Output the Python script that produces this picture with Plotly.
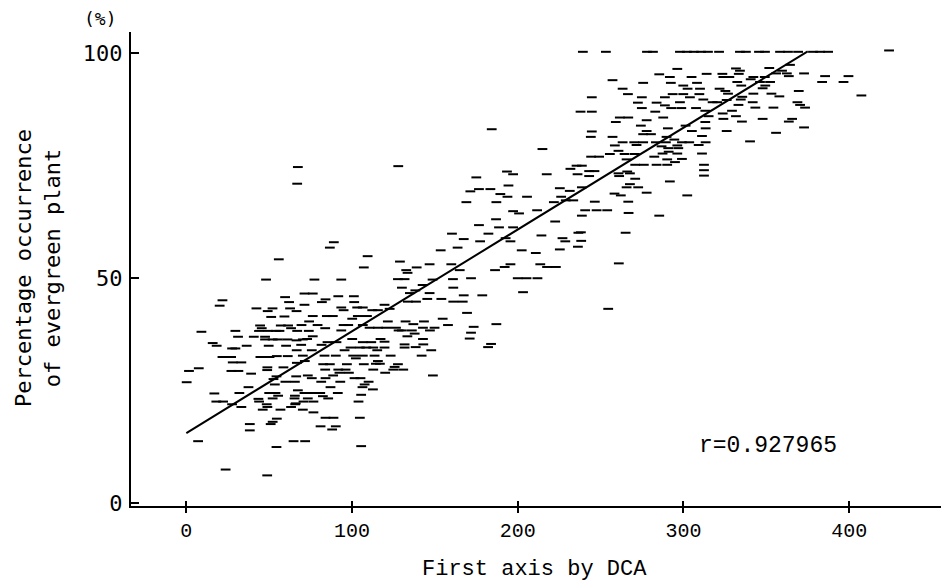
import plotly.graph_objects as go

# ---- data (x = DCA axis 1 score, y = % evergreen) ----
left_pts = [(55.8,54.2),(48.1,49.7),(59.6,45.8),(62.0,44.7),(21.8,45.1),(20.1,43.9),(42.3,43.3),(49.1,42.7),
    (52.0,43.3),(62.6,43.3),(66.5,42.7),(51.2,41.4),(59.2,41.5),(44.5,39.5),(45.5,38.9),(57.0,39.5),(61.4,39.5),
    (63.2,38.9),(9.1,38.1),(29.6,38.3),(31.2,37.0),(40.7,37.0),(43.9,38.3),(47.5,37.0),(49.5,38.3),(54.0,38.3),
    (56.2,38.3),(66.9,38.3),(47.5,36.4),(52.1,36.4),(55.2,36.4),(61.0,36.4),(66.5,36.2),(15.9,35.6),(18.3,35.0),
    (36.4,35.0),(49.7,35.0),(60.2,35.0),(27.6,34.4),(29.6,34.4),(21.8,32.5),(27.0,32.5),(44.7,32.5),(50.2,32.5),
    (54.6,32.7),(61.2,32.7),(28.0,31.3),(33.2,31.3),(48.9,30.2),(48.8,29.6),(58.6,30.2),(7.5,30.0),(1.6,29.4),
    (27.2,29.4),(31.4,29.4),(39.1,28.8),(66.7,31.2),(54.4,28.2),(52.6,27.6),(66.3,28.2),(0.2,26.9),(53.4,26.4),
    (59.8,27.0),(65.5,27.0),(37.5,25.8),(16.9,24.4),(32.0,24.5),(50.0,24.5),(53.8,24.5),(55.4,23.9),(65.5,23.9),
    (18.1,22.6),(22.2,22.6),(43.5,23.2),(43.9,22.6),(52.1,23.3),(27.6,22.0),(33.2,21.4),(48.5,22.0),(48.9,21.4),
    (46.1,20.8),(56.8,20.8),(63.2,21.4),(65.7,22.0),(54.6,18.8),(52.1,18.1),(50.9,17.6),(38.3,17.6),(38.3,16.2),
    (7.1,13.8),(64.7,13.8),(54.4,12.5),(23.7,7.5),(48.8,6.2),(67.3,74.7),(66.9,71.0)]

midleft_pts = [(160.3,59.9),(89.0,58.0),(86.6,56.8),(153.5,56.2),(109.4,54.9),(107.1,52.4),(128.9,53.7),
    (132.7,51.8),(133.5,51.2),(139.0,52.4),(146.8,53.1),(159.9,53.1),(77.3,49.7),(93.5,49.7),(127.7,49.8),
    (131.7,49.8),(130.1,47.9),(142.6,48.5),(148.6,49.7),(160.9,49.8),(161.1,47.9),(134.9,46.7),(138.2,47.3),
    (146.8,46.7),(71.3,46.6),(76.3,46.6),(84.0,45.3),(81.8,44.7),(91.7,46.0),(101.1,46.0),(101.3,44.7),
    (133.7,44.8),(138.6,44.8),(145.4,45.4),(153.9,45.4),(161.1,44.8),(71.3,44.1),(93.5,43.5),(94.9,42.9),
    (103.1,43.5),(106.5,43.5),(112.2,42.9),(115.6,42.9),(119.6,44.1),(122.7,43.2),(76.3,41.6),(84.8,41.6),
    (88.4,41.6),(100.1,41.0),(103.5,41.6),(109.0,41.6),(74.1,40.4),(69.5,39.6),(79.2,39.6),(94.9,39.6),
    (97.7,39.6),(106.5,39.6),(121.6,40.4),(132.3,40.4),(137.0,39.8),(143.4,40.4),(154.7,41.0),(157.9,39.6),
    (73.9,38.3),(83.8,38.9),(93.5,38.4),(110.6,39.0),(115.6,39.0),(120.7,39.0),(126.5,39.0),(128.1,38.4),
    (130.1,38.4),(136.1,38.4),(142.8,39.0),(147.0,38.4),(149.8,39.0),(133.4,37.1),(137.8,37.7),(70.3,36.4),
    (72.9,36.5),(76.3,37.1),(85.2,35.8),(90.6,35.8),(100.1,36.5),(106.5,35.8),(111.6,35.8),(117.2,36.5),
    (119.6,35.9),(142.8,36.5),(69.3,35.2),(81.6,35.2),(99.1,34.6),(104.7,34.6),(108.6,34.6),(112.8,34.6),
    (115.2,34.0),(119.6,34.6),(131.7,35.3),(131.7,34.6),(138.4,34.7),(143.0,35.3),(147.8,34.0),(66.6,34.0),
    (75.7,34.0),(95.5,34.0),(70.3,32.8),(83.4,32.8),(90.2,32.8),(100.7,32.8),(106.5,32.8),(113.6,32.8),
    (123.3,32.8),(142.0,32.8),(102.3,32.2),(115.6,31.6),(116.8,31.0),(71.5,31.6),(82.6,30.9),(86.6,30.9),
    (96.9,30.9),(107.1,30.9),(114.4,31.0),(127.7,30.9),(125.7,30.3),(83.8,29.7),(91.7,29.7),(96.1,29.7),
    (112.8,29.7),(124.9,29.7),(130.9,29.7),(73.3,28.4),(88.6,28.4),(92.4,29.0),(98.1,29.0),(120.0,29.0),
    (75.7,27.8),(84.0,27.8),(101.5,27.8),(105.1,27.8),(148.8,28.4),(81.4,27.0),(92.9,27.0),(110.0,27.0),
    (107.6,26.4),(106.3,25.8),(87.0,25.8),(112.6,25.3),(67.3,25.1),(71.3,24.5),(75.3,24.5),(80.8,24.5),
    (91.4,24.5),(105.5,24.1),(82.4,23.8),(85.6,23.3),(65.3,23.3),(73.3,23.3),(70.7,22.6),(76.7,22.6),
    (103.9,22.6),(66.0,22.2),(70.3,20.8),(76.7,20.2),(84.0,19.0),(88.8,19.0),(104.7,19.0),(81.0,17.1),
    (88.0,16.4),(90.2,17.1),(71.7,13.8),(105.5,12.7),(127.9,74.9)]

middle_pts = [(184.3,83.1),(214.9,78.7),(193.5,73.7),(197.2,73.1),(217.5,73.1),(231.8,74.3),(235.5,75.0),
    (236.1,73.1),(175.0,72.4),(176.6,69.8),(171.4,69.3),(183.5,69.8),(194.4,70.6),(189.5,68.7),(193.8,68.1),
    (205.6,68.1),(225.4,70.0),(231.4,69.4),(226.2,68.1),(169.0,66.9),(187.1,66.9),(221.8,66.9),(229.0,67.3),
    (233.5,67.3),(197.2,64.9),(200.8,64.4),(211.7,65.1),(186.9,63.1),(222.6,62.6),(176.6,61.8),(188.7,61.3),
    (197.2,61.3),(182.3,59.9),(167.4,58.7),(192.7,58.9),(195.6,58.2),(177.3,58.2),(214.3,59.5),(227.0,58.9),
    (228.7,58.2),(236.6,60.1),(236.3,57.0),(163.7,56.8),(202.4,56.2),(225.4,56.4),(210.9,55.6),(165.0,51.8),
    (195.6,53.1),(192.1,52.5),(186.3,51.8),(213.6,53.1),(217.7,52.5),(223.0,52.5),(171.8,50.0),(200.0,50.0),
    (205.3,50.0),(211.9,50.0),(167.4,46.2),(178.6,46.2),(203.2,46.9),(166.8,44.8),(169.4,42.3),(187.1,39.8),
    (183.9,35.4),(182.1,34.7),(171.0,36.6),(171.8,37.9),(173.4,39.2)]

upper_pts = [(296.3,96.5),(285.4,95.3),(291.8,94.7),(314.0,95.4),(323.5,95.4),(304.9,94.7),(257.2,94.0),
    (275.7,93.4),(292.4,93.4),(308.2,93.4),(324.1,94.7),(299.9,92.8),(263.3,92.1),(302.5,92.1),(310.0,92.1),
    (321.8,92.1),(325.3,91.6),(266.5,90.9),(293.5,90.9),(299.9,90.9),(309.6,90.9),(244.7,90.2),(274.9,90.2),
    (288.8,90.2),(303.9,90.2),(312.0,89.7),(317.6,89.1),(320.4,89.1),(326.1,89.6),(272.5,89.0),(283.8,89.0),
    (297.9,89.1),(288.8,88.4),(292.6,87.8),(274.9,87.8),(298.7,87.8),(307.6,87.8),(237.9,87.0),(244.7,87.0),
    (283.0,87.0),(313.2,87.2),(323.7,86.6),(261.6,85.7),(266.7,85.7),(287.8,85.7),(315.2,86.0),(324.1,85.4),
    (277.8,85.1),(259.2,84.7),(313.2,84.7),(274.3,83.9),(301.3,83.9),(290.6,83.3),(313.4,83.3),(244.7,82.6),
    (277.8,82.7),(275.7,82.0),(280.4,82.0),(305.1,82.7),(326.1,82.7),(244.1,81.4),(257.2,81.4),(289.8,81.4),
    (294.5,80.8),(311.2,81.6),(263.3,80.2),(270.3,80.2),(275.7,80.2),(283.4,80.2),(289.4,80.2),(299.1,80.2),
    (303.5,80.2),(313.4,80.2),(258.6,79.5),(271.7,79.6),(286.8,79.3),(296.3,79.5),(309.2,79.6),(290.8,78.9),
    (296.9,78.9),(260.8,78.3),(287.4,77.7),(291.1,78.1),(296.3,77.7),(311.2,77.7),(255.6,77.6),(244.3,77.0),
    (249.1,77.0),(264.5,77.6),(270.7,77.6),(282.4,77.0),(290.2,76.4),(299.1,76.5),(265.7,76.4),(294.9,75.8),
    (238.7,75.0),(270.9,75.2),(276.1,75.2),(283.8,75.2),(290.2,75.2),(312.4,75.2),(312.4,74.0),(312.4,72.8),
    (243.1,73.8),(246.3,73.8),(260.8,73.3),(266.1,73.7),(267.7,73.3),(243.1,72.7),(261.2,72.7),(270.9,72.1),
    (291.8,71.5),(267.7,70.9),(265.7,70.2),(272.7,70.2),(238.7,70.2),(277.8,69.0),(258.4,68.8),(262.2,68.4),
    (302.3,68.4),(246.5,67.0),(266.7,67.0),(240.7,65.1),(247.6,65.1),(254.0,65.1),(238.7,63.9),(266.9,64.5),
    (285.4,63.9),(238.1,60.2),(265.1,60.1),(238.3,58.3),(261.0,53.3),(254.6,43.2)]

right_pts = [(364.3,97.4),(331.7,96.6),(334.1,96.1),(333.4,95.4),(351.8,96.7),(359.5,96.1),(355.9,95.5),
    (362.4,95.5),(363.6,94.9),(372.8,95.5),(385.5,94.9),(399.6,94.9),(327.7,94.7),(342.2,94.7),(340.6,94.2),
    (349.1,94.7),(332.5,93.6),(346.2,93.6),(352.3,93.6),(383.7,93.6),(396.6,93.6),(334.9,92.8),(349.4,92.8),
    (347.8,92.2),(369.6,91.6),(326.9,91.0),(342.2,91.0),(353.1,91.0),(335.5,90.3),(334.6,89.7),(357.9,90.4),
    (407.4,90.6),(341.8,89.1),(368.8,89.1),(370.4,88.5),(373.4,87.9),(333.2,88.5),(343.4,87.9),(354.3,87.9),
    (329.3,87.2),(331.7,86.0),(347.8,85.4),(365.6,85.4),(363.6,84.8),(335.3,84.8),(372.8,83.5),(355.9,82.3),
    (340.2,80.4)]

full_x = [239.3,253.2,278.0,281.6,297.9,302.1,306.3,310.6,314.8,321.5,334.1,337.7,345.6,349.2,
          358.3,363.1,369.2,378.2,382.5,387.3,424.1]
full_y = [100.3]*20 + [100.6]

fit_x = [0, 375]
fit_y = [15.6, 100.4]
r_text = "r=0.927965"
x_ticks = [0, 100, 200, 300, 400]
y_ticks = [0, 50, 100]

pts = left_pts + midleft_pts + middle_pts + upper_pts + right_pts
px = [p[0] for p in pts] + full_x
py = [p[1] for p in pts] + full_y

MONO = "Liberation Mono"
SANSMONO = "DejaVu Sans Mono"
X_RANGE = [-33.4, 465.1]

fig = go.Figure()
fig.add_trace(go.Scatter(x=px, y=py, mode="markers",
                         marker=dict(symbol="line-ew", size=7, color="black",
                                     line=dict(width=2, color="black")),
                         hoverinfo="skip"))
fig.add_trace(go.Scatter(x=fit_x, y=fit_y, mode="lines",
                         line=dict(color="black", width=2), hoverinfo="skip"))
# empty trace so the overlaid tick axis (inside half of the crossing ticks) is drawn
fig.add_trace(go.Scatter(x=[None], y=[None], xaxis="x2", yaxis="y", showlegend=False, hoverinfo="skip"))

fig.update_layout(
    width=949, height=585,
    margin=dict(l=123, r=0, t=24, b=87),
    paper_bgcolor="white", plot_bgcolor="white",
    showlegend=False,
    xaxis=dict(range=X_RANGE, tickvals=x_ticks, ticktext=[str(v) for v in x_ticks],
               showgrid=False, zeroline=False, showline=True, linecolor="black", linewidth=2,
               ticks="outside", ticklen=5, tickwidth=2, tickcolor="black",
               tickfont=dict(family=MONO, size=20, color="black"), ticklabelstandoff=0),
    xaxis2=dict(range=X_RANGE, overlaying="x", matches="x", side="bottom",
                tickvals=x_ticks, showticklabels=False, showgrid=False, zeroline=False,
                showline=False, ticks="inside", ticklen=5, tickwidth=2, tickcolor="black"),
    yaxis=dict(range=[-0.6, 104.7], tickvals=y_ticks, ticktext=[str(v) for v in y_ticks],
               showgrid=False, zeroline=False, showline=True, linecolor="black", linewidth=2,
               ticks="inside", ticklen=8, tickwidth=2, tickcolor="black",
               tickfont=dict(family=SANSMONO, size=22, color="black"), ticklabelstandoff=2),
)

fig.add_annotation(text="(%)", xref="paper", yref="paper", x=-0.0375, y=1.0295,
                   xanchor="center", yanchor="middle", showarrow=False,
                   font=dict(family=SANSMONO, size=18, color="black"))
fig.add_annotation(text="Percentage occurrence<br>of evergreen plant", xref="paper", yref="paper",
                   x=-0.1126, y=0.502, xanchor="center", yanchor="middle", textangle=-90,
                   showarrow=False, font=dict(family=SANSMONO, size=22, color="black"))
fig.add_annotation(text="First axis by DCA", xref="paper", yref="paper", x=0.489, y=-0.135,
                   xanchor="center", yanchor="middle", showarrow=False,
                   font=dict(family=MONO, size=22, color="black"))
fig.add_annotation(text=r_text, xref="paper", yref="paper", x=0.685, y=0.1266,
                   xanchor="left", yanchor="middle", showarrow=False,
                   font=dict(family=MONO, size=23, color="black"))

fig.write_html("out.html")
